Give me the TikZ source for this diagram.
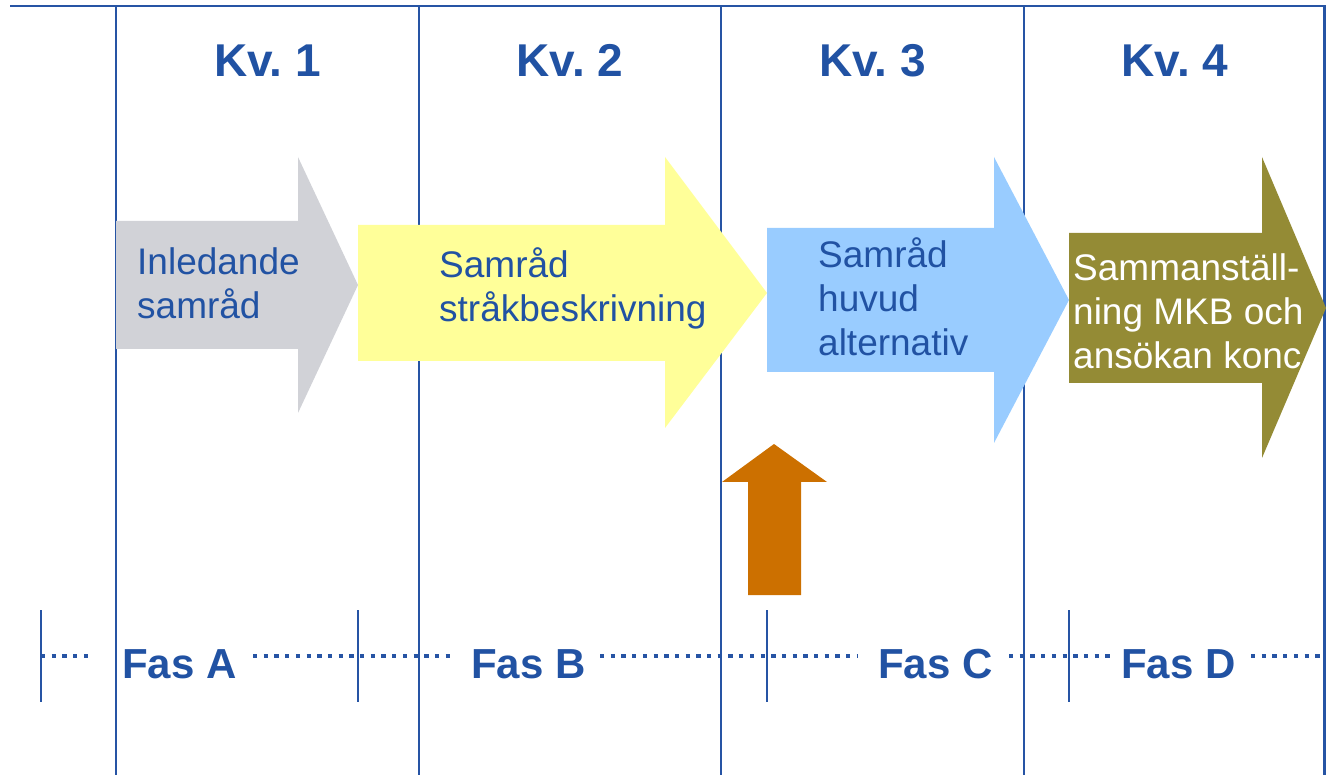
\documentclass[tikz,border=0pt]{standalone}
\usepackage{fontspec}
\setmainfont{Liberation Sans}
\frenchspacing
\definecolor{lineblue}{RGB}{38,84,164}
\definecolor{textblue}{RGB}{33,82,163}
\definecolor{arrgray}{RGB}{209,210,215}
\definecolor{arryellow}{RGB}{255,255,153}
\definecolor{arrblue}{RGB}{153,204,255}
\definecolor{arrolive}{RGB}{148,139,53}
\definecolor{arrorange}{RGB}{204,112,0}
\tikzset{
  gridline/.style={draw=lineblue, line width=2.2pt},
  tickline/.style={draw=lineblue, line width=1.8pt},
  dotline/.style={draw=lineblue, line width=4.3pt, dash pattern=on 4.3pt off 6.4pt},
  kvlabel/.style={text=textblue, font=\fontsize{46}{52}\selectfont\bfseries, inner sep=0pt, anchor=base},
  faslabel/.style={text=textblue, font=\fontsize{42}{48}\selectfont\bfseries, inner sep=0pt, anchor=base west},
  arrtext/.style={font=\fontsize{37}{44}\selectfont, inner sep=0pt, anchor=base west},
}
\begin{document}
\begin{tikzpicture}[x=1pt,y=-1pt]
\useasboundingbox (0,0) rectangle (1326,775);
% grid
\draw[gridline] (10,6) -- (1326,6);
\foreach \xx in {116,419,721,1024,1324.5}{
  \draw[gridline] (\xx,6) -- (\xx,775);
}
% arrows
\fill[arrgray] (116,221) -- (298,221) -- (298,157) -- (358,285) -- (298,413) -- (298,349) -- (116,349) -- cycle;
\fill[arryellow] (358,225) -- (665,225) -- (665,157) -- (767,293) -- (665,428) -- (665,361) -- (358,361) -- cycle;
\fill[arrblue] (767,228) -- (994,228) -- (994,157) -- (1069,300) -- (994,443) -- (994,372) -- (767,372) -- cycle;
\fill[arrolive] (1069,233) -- (1262,233) -- (1262,157) -- (1326,308) -- (1262,458) -- (1262,383) -- (1069,383) -- cycle;
\fill[arrorange] (748,595) -- (748,482) -- (722,482) -- (774,444) -- (827,482) -- (801,482) -- (801,595) -- cycle;
% arrow texts
\node[arrtext, text=textblue] (tA) at (137,275) {\begin{tabular}[t]{@{}l@{}}Inledande\\samråd\end{tabular}};
\node[arrtext, text=textblue] (tB) at (439,278) {\begin{tabular}[t]{@{}l@{}}Samråd\\stråkbeskrivning\end{tabular}};
\node[arrtext, text=textblue] (tC) at (818,268) {\begin{tabular}[t]{@{}l@{}}Samråd\\huvud\\alternativ\end{tabular}};
\node[arrtext, text=white] (tD) at (1073,281) {\begin{tabular}[t]{@{}l@{}}Sammanställ-\\ning MKB och\\ansökan konc\end{tabular}};
% quarter labels
\node[kvlabel] (kv1) at (267.5,77) {Kv. 1};
\node[kvlabel] (kv2) at (570,77) {Kv. 2};
\node[kvlabel] (kv3) at (872.5,77) {Kv. 3};
\node[kvlabel] (kv4) at (1175,77) {Kv. 4};
% phase ticks
\foreach \xx in {41,358,767,1069}{
  \draw[tickline] (\xx,610) -- (\xx,702);
}
% dotted lines
\draw[dotline] (41,656) -- (88,656);
\draw[dotline] (253,656) -- (450,656);
\draw[dotline] (600,656) -- (858,656);
\draw[dotline] (1009,656) -- (1111,656);
\draw[dotline] (1251,656) -- (1322,656);
% phase labels
\node[faslabel] (fA) at (122,678) {Fas A};
\node[faslabel] (fB) at (471,678) {Fas B};
\node[faslabel] (fC) at (878,678) {Fas C};
\node[faslabel] (fD) at (1121,678) {Fas D};
\end{tikzpicture}
\end{document}
